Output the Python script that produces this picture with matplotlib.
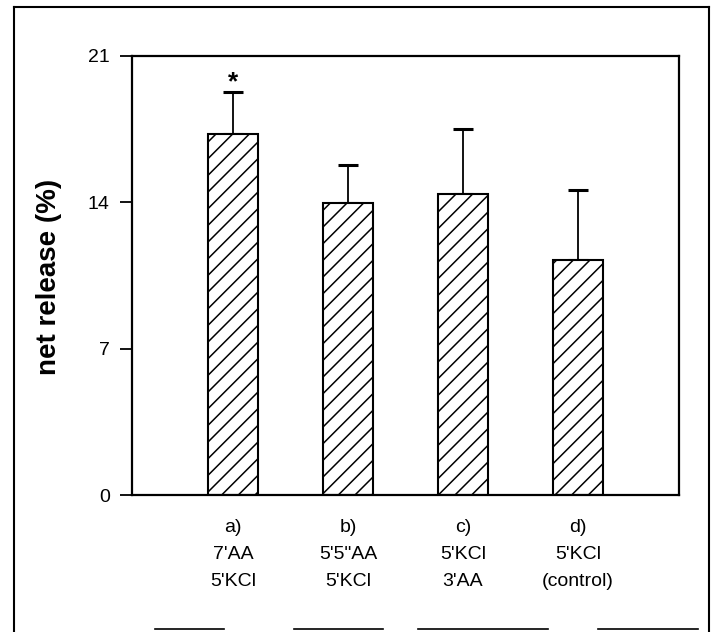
import numpy as np
import matplotlib
matplotlib.use("Agg")
import matplotlib.pyplot as plt
from matplotlib.lines import Line2D

# values
groups = ["a)\n7'AA\n5'KCl", "b)\n5'5\"AA\n5'KCl", "c)\n5'KCl\n3'AA", "d)\n5'KCl\n(control)"]
release = [17.25, 13.97, 14.42, 11.25]
sem = [2.04, 1.80, 3.11, 3.36]
significant = [True, False, False, False]
yticks = [0, 7, 14, 21]

plt.rcParams['font.family'] = ['Liberation Sans', 'DejaVu Sans']
plt.rcParams['hatch.linewidth'] = 1.1

W, H = 711, 632
fig = plt.figure(figsize=(W / 100, H / 100), dpi=100)
ax = fig.add_axes([132 / W, 1 - 495 / H, 547 / W, 439 / H])

x = np.arange(len(groups))
ax.bar(x, release, width=0.435, color='white', edgecolor='black',
       linewidth=1.5, hatch='//', zorder=2)
# only the upper half of each error bar is drawn
ax.errorbar(x, release, yerr=[np.zeros(len(sem)), sem], fmt='none',
            ecolor='black', elinewidth=1.3, capsize=7, capthick=2.2, zorder=1)

for xi, v, e, sig in zip(x, release, sem, significant):
    if sig:
        ax.text(xi, v + e - 0.1, '*', ha='center', va='bottom',
                fontsize=19, fontweight='bold')

ax.set_xlim(-0.878, 3.878)
ax.set_ylim(0, 21)
ax.set_yticks(yticks)
ax.set_yticklabels([str(t) for t in yticks], fontsize=14)
ax.set_xticks(x)
ax.set_xticklabels(groups, fontsize=14, linespacing=1.78)
ax.tick_params(axis='x', length=0, pad=17)
ax.tick_params(axis='y', direction='out', length=9, width=1.3, pad=7)
for sp in ax.spines.values():
    sp.set_linewidth(1.6)

fig.text(49 / W, 1 - 277 / H, 'net release (%)', rotation=90, ha='center',
         va='center', fontsize=20, fontweight='bold')

# outer frame of the scanned panel
fw = 1.5
fig.add_artist(Line2D([14 / W, 14 / W], [1 - 7 / H, 0.0], color='black', lw=fw))
fig.add_artist(Line2D([14 / W, 709 / W], [1 - 7 / H, 1 - 7 / H], color='black', lw=fw))
fig.add_artist(Line2D([709 / W, 709 / W], [1 - 7 / H, 0.0], color='black', lw=fw))
for x0, x1 in [(155, 224), (294, 383), (418, 548), (598, 698)]:
    fig.add_artist(Line2D([x0 / W, x1 / W], [1 - 629 / H, 1 - 629 / H],
                          color='black', lw=1.2))

fig.savefig('out.png', dpi=100)
